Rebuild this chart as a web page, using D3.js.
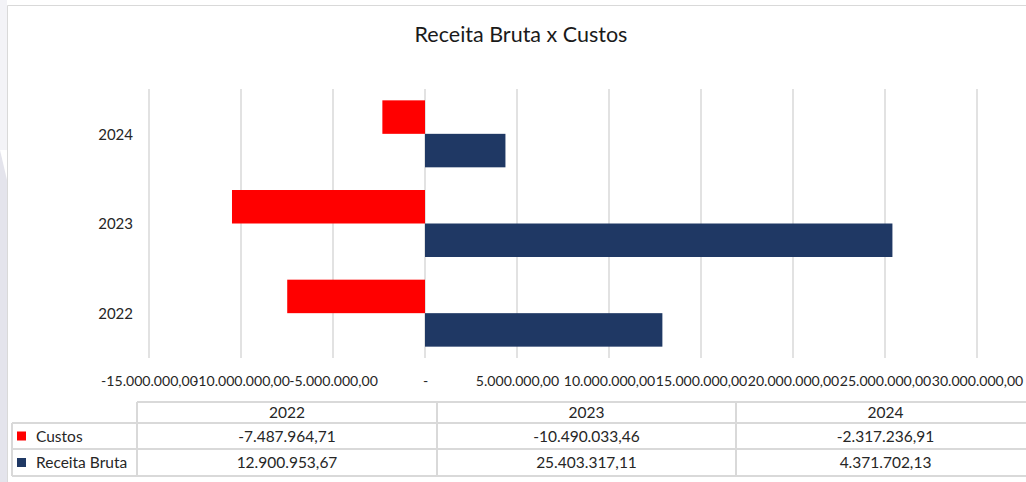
<!DOCTYPE html>
<html><head><meta charset="utf-8">
<script src="https://cdn.jsdelivr.net/npm/d3@7"></script>
<style>
html,body{margin:0;padding:0;background:#fff;}
svg{display:block;font-family:Lato,"Open Sans",sans-serif;}
</style></head>
<body>
<svg id="chart" width="1026" height="482"></svg>
<script>
const title = "Receita Bruta x Custos";
const years = ["2022", "2023", "2024"];
const seriesNames = ["Custos", "Receita Bruta"];
const custos = [-7487964.71, -10490033.46, -2317236.91];
const receitaBruta = [12900953.67, 25403317.11, 4371702.13];
const xTicks = [-15000000, -10000000, -5000000, 0, 5000000, 10000000, 15000000, 20000000, 25000000, 30000000];
const colors = ["#ff0000", "#1f3864"];

const svg = d3.select("#chart");
const W = 1026, H = 482;

svg.append("rect").attr("x",0).attr("y",0).attr("width",W).attr("height",H).attr("fill","#ffffff");
svg.append("path").attr("d","M0,150 L7,180 L7,482 L0,482 Z").attr("fill","#e4e4ec");
svg.append("rect").attr("x",0).attr("y",0).attr("width",7).attr("height",150).attr("fill","#f3f3f7");
svg.append("path").attr("d","M1030,5.5 L7.5,5.5 L7.5,482").attr("fill","none").attr("stroke","#d9d9d9").attr("stroke-width",1);

const fmt = v => {
  const s = d3.format(",.2f")(Math.abs(v)).replace(/,/g,"#").replace(/\./g,",").replace(/#/g,".");
  return (v < 0 ? "-" : "") + s;
};

const x = d3.scaleLinear().domain([-15000000, 30000000]).range([149, 977]);
const yTop = 89, yBot = 358;
const y = d3.scaleBand().domain(years.slice().reverse()).range([yTop, yBot]).paddingInner(0.253).paddingOuter(0.1265);
const sub = d3.scaleBand().domain(seriesNames).range([0, y.bandwidth()]);

svg.append("text").attr("x",521).attr("y",42).attr("text-anchor","middle")
  .attr("font-size",21.5).attr("fill","#1a1a1a").text(title);

const xAxis = d3.axisBottom(x).tickValues(xTicks).tickSize(0).tickFormat(d => d === 0 ? "-" : fmt(d));
svg.append("g").selectAll("line").data(xTicks).join("line")
  .attr("x1", d => x(d)).attr("x2", d => x(d)).attr("y1", yTop).attr("y2", yBot)
  .attr("stroke","#d9d9d9").attr("stroke-width",1.5);

const gx = svg.append("g").attr("transform",`translate(0,${yBot})`).call(xAxis);
gx.select(".domain").remove();
gx.selectAll("text").attr("font-size",14.1).attr("fill","#262626").attr("font-family","Lato,sans-serif").attr("dy","1.75em");

const yAxis = d3.axisLeft(y).tickSize(0).tickPadding(0);
const gy = svg.append("g").attr("transform","translate(133,1)").call(yAxis);
gy.select(".domain").remove();
gy.selectAll("text").attr("font-size",15).attr("fill","#262626").attr("font-family","Lato,sans-serif");

const data = [];
years.forEach((yr,i) => {
  data.push({year: yr, series: "Custos", value: custos[i], color: colors[0]});
  data.push({year: yr, series: "Receita Bruta", value: receitaBruta[i], color: colors[1]});
});
svg.append("g").selectAll("rect").data(data).join("rect")
  .attr("x", d => x(Math.min(0, d.value)))
  .attr("width", d => Math.abs(x(d.value) - x(0)))
  .attr("y", d => y(d.year) + sub(d.series))
  .attr("height", sub.bandwidth())
  .attr("fill", d => d.color);

const colEdges = [137, 437, 736, 1035];
const rowEdges = [402, 423, 449, 476];
const tbl = svg.append("g");
const lineC = "#d9d9d9";
tbl.append("line").attr("x1",colEdges[0]).attr("x2",W+10).attr("y1",rowEdges[0]).attr("y2",rowEdges[0]).attr("stroke",lineC).attr("stroke-width",2);
[1,2,3].forEach(r => tbl.append("line").attr("x1",12).attr("x2",W+10).attr("y1",rowEdges[r]).attr("y2",rowEdges[r]).attr("stroke",lineC).attr("stroke-width",2));
tbl.append("line").attr("x1",12).attr("x2",12).attr("y1",rowEdges[1]).attr("y2",rowEdges[3]).attr("stroke",lineC).attr("stroke-width",2);
colEdges.forEach(c => tbl.append("line").attr("x1",c).attr("x2",c).attr("y1",rowEdges[0]).attr("y2",rowEdges[3]).attr("stroke",lineC).attr("stroke-width",2));

const colCenter = i => (colEdges[i] + colEdges[i+1]) / 2;
const rowMid = r => (rowEdges[r] + rowEdges[r+1]) / 2;
years.forEach((yr,i) => {
  tbl.append("text").attr("x",colCenter(i)).attr("y",rowMid(0)).attr("dy","0.36em").attr("text-anchor","middle")
    .attr("font-size",15.5).attr("fill","#262626").text(yr);
});
const seriesVals = [custos, receitaBruta];
seriesNames.forEach((name, s) => {
  const r = s + 1;
  tbl.append("rect").attr("x",17).attr("y",rowMid(r)-4.5).attr("width",9).attr("height",9).attr("fill",colors[s]);
  tbl.append("text").attr("x",36).attr("y",rowMid(r)).attr("dy","0.36em")
    .attr("font-size",15.5).attr("fill","#262626").text(name);
  seriesVals[s].forEach((v,i) => {
    tbl.append("text").attr("x",colCenter(i)).attr("y",rowMid(r)).attr("dy","0.36em").attr("text-anchor","middle")
      .attr("font-size",15.5).attr("fill","#262626").text(fmt(v));
  });
});
</script>
</body></html>
